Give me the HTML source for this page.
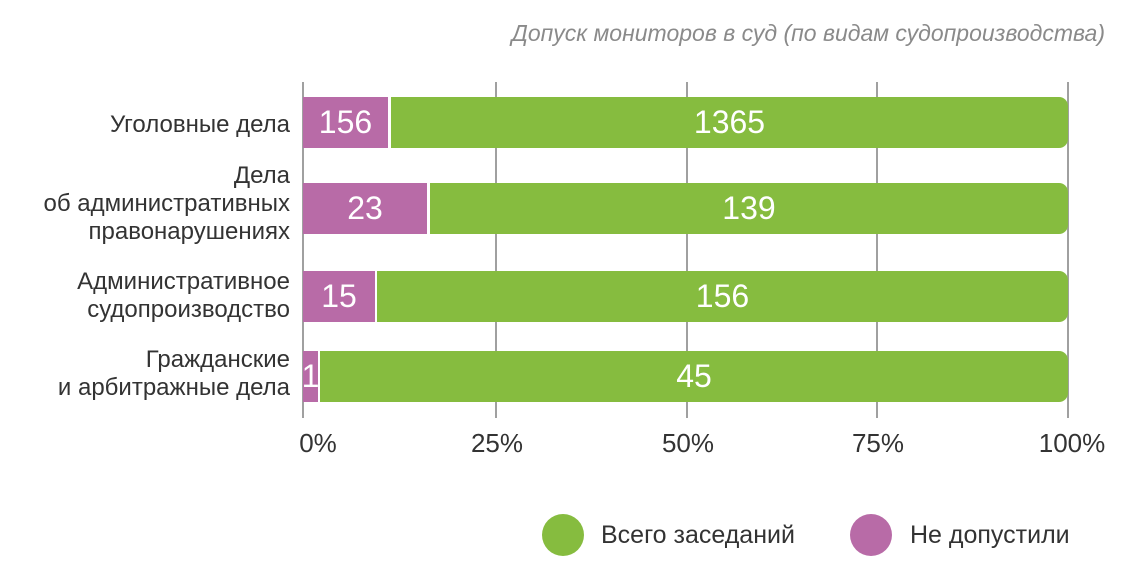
<!DOCTYPE html>
<html><head><meta charset="utf-8"><style>
body{margin:0;width:1140px;height:575px;background:#fff;font-family:"Liberation Sans",sans-serif;position:relative;overflow:hidden}
.a{position:absolute}
.g{position:absolute;top:82px;height:336px;width:2px;background:#a0a0a0}
.bar{position:absolute;height:51px;color:#fff;font-size:32px;display:flex;align-items:center;justify-content:center}
.p{background:#b86ba7}.gr{background:#86bc3f;border-radius:0 9px 9px 0}
.lab{position:absolute;right:850px;text-align:right;font-size:24px;line-height:28px;color:#333;white-space:nowrap}
.t{position:absolute;top:428px;font-size:26px;color:#333;transform:translateX(-50%)}
</style></head><body>
<div class="a" style="right:35px;top:20px;font-size:23px;font-style:italic;color:#8a8a8a;white-space:nowrap">Допуск мониторов в суд (по видам судопроизводства)</div>
<div class="g" style="left:302px"></div><div class="g" style="left:495px"></div><div class="g" style="left:686px"></div><div class="g" style="left:876px"></div><div class="g" style="left:1067px"></div>
<div class="bar p" style="left:303px;top:97px;width:85px">156</div><div class="bar gr" style="left:391px;top:97px;width:677px">1365</div>
<div class="bar p" style="left:303px;top:183px;width:124px">23</div><div class="bar gr" style="left:430px;top:183px;width:638px">139</div>
<div class="bar p" style="left:303px;top:271px;width:72px">15</div><div class="bar gr" style="left:377px;top:271px;width:691px">156</div>
<div class="bar p" style="left:303px;top:351px;width:15px">1</div><div class="bar gr" style="left:320px;top:351px;width:748px">45</div>
<div class="lab" style="top:111px">Уголовные дела</div>
<div class="lab" style="top:162px">Дела<br>об административных<br>правонарушениях</div>
<div class="lab" style="top:268px">Административное<br>судопроизводство</div>
<div class="lab" style="top:346px">Гражданские<br>и арбитражные дела</div>
<div class="t" style="left:318px">0%</div><div class="t" style="left:497px">25%</div><div class="t" style="left:688px">50%</div><div class="t" style="left:878px">75%</div><div class="t" style="left:1072px">100%</div>
<div class="a" style="left:542px;top:514px;width:42px;height:42px;border-radius:50%;background:#86bc3f"></div>
<div class="a" style="left:601px;top:521px;font-size:25px;color:#333;white-space:nowrap">Всего заседаний</div>
<div class="a" style="left:850px;top:514px;width:42px;height:42px;border-radius:50%;background:#b86ba7"></div>
<div class="a" style="left:910px;top:521px;font-size:25px;color:#333;white-space:nowrap">Не допустили</div>
</body></html>
